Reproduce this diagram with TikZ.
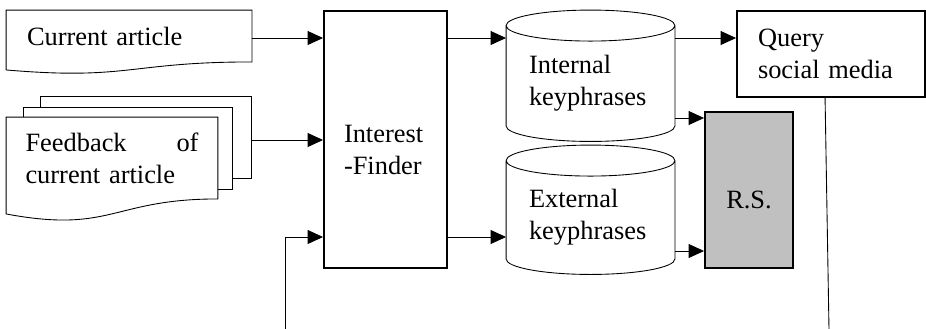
\documentclass[tikz,border=0pt]{standalone}
\usepackage{fontspec}
\setmainfont{Liberation Serif}
\usetikzlibrary{arrows.meta,calc}
\pgfdeclarelayer{back}
\pgfsetlayers{back,main}
\newdimen\pxu \pxu=0.4545pt
\definecolor{rsgray}{RGB}{192,192,192}

% page with a wavy bottom edge, #2 = drop of the left corner
\newcommand\docsheet[2]{%
  \draw[fill=white] (#1.south east) -- (#1.north east) -- (#1.north west)
    -- ($(#1.south west)+(0,#2)$)
    .. controls ($(#1.south west)!0.5!(#1.south east)+(0,2.32*#2)$)
    and ($(#1.south west)!0.5!(#1.south east)$) .. (#1.south east) -- cycle;}
% upright cylinder round a node, #2 = half height of the end ellipse
\newcommand\drum[2]{%
  \draw[fill=white] let \p1=(#1.north west), \p2=(#1.north east) in
    ($(#1.north west)+(0,-#2)$) -- (#1.south west)
    arc[start angle=180, end angle=360, x radius={0.5*\x2-0.5*\x1}, y radius=#2*0.4545pt]
    -- ($(#1.north east)+(0,-#2)$)
    arc[start angle=0, end angle=360, x radius={0.5*\x2-0.5*\x1}, y radius=#2*0.4545pt];}

\tikzset{
  txt/.style={font=\fontsize{12}{14.5}\selectfont, align=left},
}

\begin{document}
\begin{tikzpicture}[x=0.4545pt, y=-0.4545pt, line width=0.85pt,
    >={Triangle[length=7pt,width=6.3pt]}]
    \useasboundingbox (0,0) rectangle (926,328);

    \node[txt, minimum width=244\pxu, minimum height=50\pxu, text width=204\pxu] (cur) at (129,36) {Current article};
    \node[txt, minimum width=210\pxu, minimum height=80\pxu, text width=173\pxu] (fb1) at (112,158) {Feedback\hfill of\\current article};
    \node[txt, draw, minimum width=123\pxu, minimum height=257\pxu, text width=83\pxu, text height=17.3pt] (finder) at (385.5,139.5) {Interest\\-Finder};
    \node[txt, minimum width=167\pxu, minimum height=83\pxu, text width=123\pxu] (intk) at (590.5,83.5) {Internal\\keyphrases};
    \node[txt, minimum width=167\pxu, minimum height=81\pxu, text width=123\pxu] (extk) at (590.5,217.5) {External\\keyphrases};
    \node[txt, draw, minimum width=188\pxu, minimum height=86\pxu, text width=146\pxu] (query) at (831,54) {Query\\social media};
    \node[txt, draw, fill=rsgray, minimum width=88\pxu, minimum height=156\pxu, align=center, text height=16.9pt] (rs) at (749,190) {R.S.};

    \begin{pgfonlayer}{back}
        \node[draw, fill=white, minimum width=211\pxu, minimum height=82\pxu] (fb3) at (145.5,137) {};
        \node[draw, fill=white, minimum width=209\pxu, minimum height=82\pxu] (fb2) at (127.5,148) {};
        \docsheet{fb1}{15}
        \docsheet{cur}{8}
        \drum{intk}{15.5}
        \drum{extk}{15.5}
    \end{pgfonlayer}

    \coordinate (row1) at (0,38);
    \coordinate (row2) at (0,140);
    \coordinate (row3) at (0,237);
    \coordinate (rowa) at (0,118);
    \coordinate (rowb) at (0,251);
    \coordinate (loop) at (285,330);
    \coordinate (qend) at (829,330);

    \draw[->] (cur.east |- row1) -- (finder.west |- row1);
    \draw[->] (fb3.east |- row2) -- (finder.west |- row2);
    \draw[->] (loop) |- (finder.west |- row3);
    \draw[->] (finder.east |- row1) -- (intk.west |- row1);
    \draw[->] (finder.east |- row3) -- (extk.west |- row3);
    \draw[->] (intk.east |- row1) -- (query.west |- row1);
    \draw[->] (intk.east |- rowa) -- (rs.west |- rowa);
    \draw[->] (extk.east |- rowb) -- (rs.west |- rowb);
    \draw ([xshift=-2.7pt]query.south) -- (qend);
\end{tikzpicture}
\end{document}
